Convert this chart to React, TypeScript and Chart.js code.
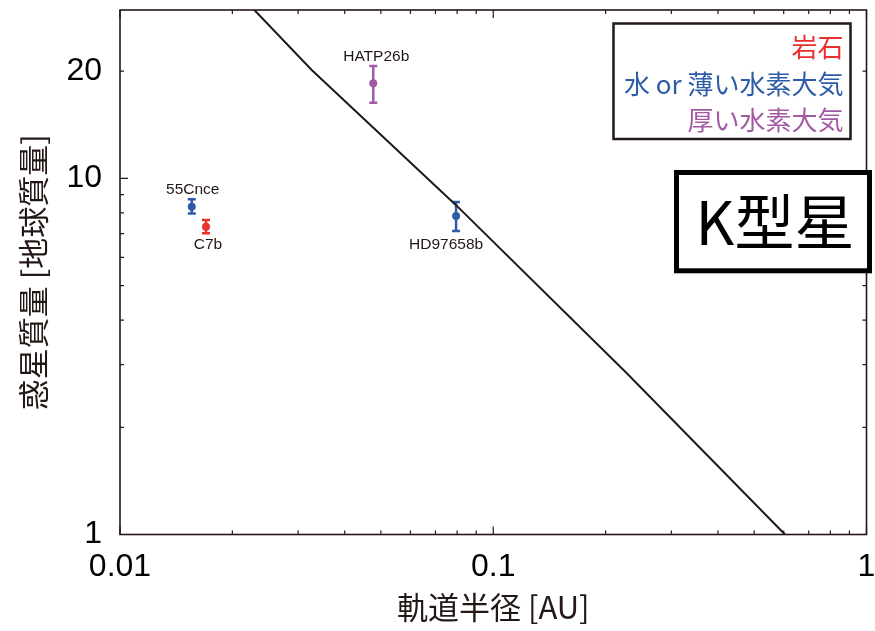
import React, { useEffect, useRef } from "react";
import { Chart, registerables } from "chart.js";

Chart.register(...registerables);

// ---- data ----
const planetNames = ["55Cnce", "C7b", "HATP26b", "HD97658b"];
const orbitAU = [0.01557, 0.017, 0.0477, 0.0795];
const massEarth = [8.32, 7.31, 18.49, 7.84];
const massErrLow = [0.35, 0.3, 2.18, 0.72];
const massErrHigh = [0.41, 0.33, 2.19, 0.74];
const planetClass = [1, 0, 2, 1];
const classLabels = ["岩石", "水 or 薄い水素大気", "厚い水素大気"];
const boundaryAU = [0.02291, 0.03263, 0.0795, 0.2283, 0.6048];
const boundaryMass = [29.7, 20.15, 8.41, 2.833, 1.0];
const xMajorTicks = [0.01, 0.1, 1];
const xMinorTicks = [0.02, 0.03, 0.04, 0.05, 0.06, 0.07, 0.08, 0.09, 0.2, 0.3, 0.4, 0.5, 0.6, 0.7, 0.8, 0.9];
const yLabelTicks = [1, 10, 20];
const yMajorTicks = [1, 10];
const yMinorTicks = [2, 3, 4, 5, 6, 7, 8, 9, 20];
const xRange = [0.01, 1];
const yRange = [1, 29.7];
const starType = "K型星";
const xTitle = "軌道半径 [AU]";
const yTitle = "惑星質量 [地球質量]";

// ---- styles ----
const classColors = ["#e8312f", "#2d5ba8", "#a45aa3"];
const ink = "#231815";
const latinFont = "'Liberation Sans', Arial, sans-serif";
const cjkFont = "'Noto Sans CJK JP', 'Noto Sans', sans-serif";
// label offsets (dx, dy) in px relative to each point
const labelOffsets = [
  [1, -17],
  [2, 18],
  [3, -27],
  [-10, 29],
];

const decorPlugin = {
  id: "decor",
  beforeDatasetsDraw(chart: any) {
    const { ctx } = chart;
    const xs = chart.scales.x;
    const ys = chart.scales.y;
    ctx.save();
    ctx.lineWidth = 2.5;
    for (let i = 0; i < planetNames.length; i++) {
      const px = xs.getPixelForValue(orbitAU[i]);
      const top = ys.getPixelForValue(massEarth[i] + massErrHigh[i]);
      const bot = ys.getPixelForValue(massEarth[i] - massErrLow[i]);
      ctx.strokeStyle = classColors[planetClass[i]];
      ctx.beginPath();
      ctx.moveTo(px, top);
      ctx.lineTo(px, bot);
      ctx.moveTo(px - 4, top);
      ctx.lineTo(px + 4, top);
      ctx.moveTo(px - 4, bot);
      ctx.lineTo(px + 4, bot);
      ctx.stroke();
    }
    ctx.restore();
  },
  afterDatasetsDraw(chart: any) {
    const { ctx } = chart;
    const xs = chart.scales.x;
    const ys = chart.scales.y;
    ctx.save();
    ctx.font = `15.5px ${latinFont}`;
    ctx.fillStyle = ink;
    ctx.textAlign = "center";
    ctx.textBaseline = "middle";
    for (let i = 0; i < planetNames.length; i++) {
      const px = xs.getPixelForValue(orbitAU[i]);
      const py = ys.getPixelForValue(massEarth[i]);
      ctx.fillText(planetNames[i], px + labelOffsets[i][0], py + labelOffsets[i][1]);
    }
    ctx.restore();
  },
  afterDraw(chart: any) {
    const { ctx, chartArea: a } = chart;
    const xs = chart.scales.x;
    const ys = chart.scales.y;
    ctx.save();
    // inward ticks
    ctx.strokeStyle = ink;
    ctx.lineWidth = 1.2;
    ctx.beginPath();
    const xt = (v: number, len: number) => {
      const p = xs.getPixelForValue(v);
      ctx.moveTo(p, a.bottom);
      ctx.lineTo(p, a.bottom - len);
      ctx.moveTo(p, a.top);
      ctx.lineTo(p, a.top + len);
    };
    const yt = (v: number, len: number) => {
      const p = ys.getPixelForValue(v);
      ctx.moveTo(a.left, p);
      ctx.lineTo(a.left + len, p);
      ctx.moveTo(a.right, p);
      ctx.lineTo(a.right - len, p);
    };
    xMajorTicks.forEach((v) => xt(v, 8));
    xMinorTicks.forEach((v) => xt(v, 4));
    yMajorTicks.forEach((v) => yt(v, 8));
    yMinorTicks.forEach((v) => yt(v, 4));
    ctx.stroke();
    // frame
    ctx.lineWidth = 1.6;
    ctx.strokeRect(a.left, a.top, a.right - a.left, a.bottom - a.top);

    // legend box
    ctx.lineWidth = 2.5;
    ctx.fillStyle = "#ffffff";
    ctx.fillRect(613.5, 23.5, 237, 115.5);
    ctx.strokeRect(613.5, 23.5, 237, 115.5);
    ctx.font = `26px ${cjkFont}`;
    ctx.textAlign = "right";
    ctx.textBaseline = "middle";
    classLabels.forEach((t, i) => {
      ctx.fillStyle = classColors[i];
      ctx.fillText(t, 843.5, 47 + i * 36.7);
    });

    // star type box
    ctx.lineWidth = 5;
    ctx.fillStyle = "#ffffff";
    ctx.fillRect(676.5, 172.5, 193, 98.3);
    ctx.strokeStyle = "#000000";
    ctx.strokeRect(676.5, 172.5, 193, 98.3);
    ctx.fillStyle = "#000000";
    ctx.font = `60px ${cjkFont}`;
    ctx.textAlign = "center";
    ctx.fillText(starType, 775, 222);
    ctx.restore();
  },
};

const zeroPad = (s: any) => {
  s.paddingTop = 0;
  s.paddingBottom = 0;
  s.paddingLeft = 0;
  s.paddingRight = 0;
};

export default function App() {
  const ref = useRef<HTMLCanvasElement>(null);

  useEffect(() => {
    if (!ref.current) return;
    const classData = classLabels.map((_, c) =>
      planetNames
        .map((_, i) => i)
        .filter((i) => planetClass[i] === c)
        .map((i) => ({ x: orbitAU[i], y: massEarth[i] }))
    );
    const chart = new Chart(ref.current, {
      type: "scatter",
      data: {
        datasets: [
          {
            type: "line",
            label: "boundary",
            data: boundaryAU.map((x, i) => ({ x, y: boundaryMass[i] })),
            borderColor: ink,
            borderWidth: 2,
            pointRadius: 0,
            fill: false,
            tension: 0,
          } as any,
          ...classLabels.map((lab, c) => ({
            label: lab,
            data: classData[c],
            backgroundColor: classColors[c],
            borderColor: classColors[c],
            borderWidth: 0,
            pointRadius: 4,
            pointHoverRadius: 4,
          })),
        ],
      },
      options: {
        animation: false,
        responsive: true,
        maintainAspectRatio: false,
        events: [],
        layout: { padding: { top: 10, right: 8.5, left: 0, bottom: 0 } },
        plugins: {
          legend: { display: false },
          tooltip: { enabled: false },
        },
        scales: {
          x: {
            type: "logarithmic",
            position: "bottom",
            min: xRange[0],
            max: xRange[1],
            grid: { display: false, drawTicks: false },
            border: { display: false },
            afterBuildTicks: (s: any) => {
              s.ticks = xMajorTicks.map((v) => ({ value: v }));
            },
            afterFit: (s: any) => {
              s.height = 96.5;
              zeroPad(s);
            },
            ticks: {
              autoSkip: false,
              maxRotation: 0,
              padding: 13,
              color: "#000",
              font: { size: 32, family: latinFont },
              callback: (v: any) => String(v),
            },
            title: {
              display: true,
              text: xTitle,
              color: ink,
              font: { size: 31, family: cjkFont, lineHeight: 1.2 },
              padding: { top: 0, bottom: 5 },
            },
          },
          y: {
            type: "logarithmic",
            position: "left",
            min: yRange[0],
            max: yRange[1],
            grid: { display: false, drawTicks: false },
            border: { display: false },
            afterBuildTicks: (s: any) => {
              s.ticks = yLabelTicks.map((v) => ({ value: v }));
            },
            afterFit: (s: any) => {
              s.width = 120;
              zeroPad(s);
            },
            ticks: {
              autoSkip: false,
              padding: 18,
              color: "#000",
              font: { size: 32, family: latinFont },
              callback: (v: any) => String(v),
            },
            title: {
              display: true,
              text: yTitle,
              color: ink,
              font: { size: 31, family: cjkFont, lineHeight: 1.2 },
              padding: { top: 15, bottom: 0 },
            },
          },
        },
      },
      plugins: [decorPlugin],
    });
    return () => chart.destroy();
  }, []);

  return (
    <div style={{ position: "absolute", left: 0, top: 0, width: 875, height: 631, background: "#fff" }}>
      <canvas ref={ref} />
    </div>
  );
}
